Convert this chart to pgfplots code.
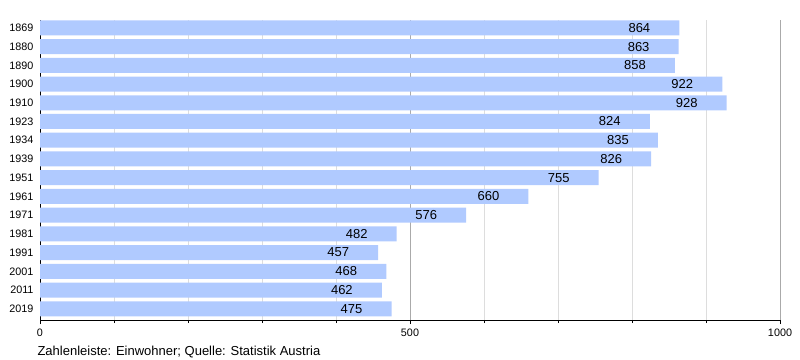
\documentclass[border=0pt]{standalone}
\usepackage{fontspec}
\setmainfont{Liberation Sans}
\usepackage{pgfplots}
\pgfplotsset{compat=1.18}
\definecolor{barblue}{RGB}{176,202,255}
\definecolor{minorg}{RGB}{221,221,221}
\definecolor{majorg}{RGB}{170,170,170}
\begin{document}
\begin{tikzpicture}
\useasboundingbox (-40bp,-40bp) rectangle (760bp,320bp);
\begin{axis}[
  at={(0,0)}, anchor=south west,
  scale only axis, width=740bp, height=300bp,
  xmin=0, xmax=1000,
  ymin=-0.42, ymax=15.6,
  y dir=reverse,
  axis x line*=bottom, axis y line*=left,
  axis line style={black, line width=0.8bp},
  xtick={0,500,1000},
  minor xtick={100,200,300,400,600,700,800,900},
  xtick pos=bottom, tick align=outside,
  major tick length=4bp, minor tick length=3bp,
  tick style={black, line width=0.6bp},
  xmajorgrids, xminorgrids,
  major grid style={majorg, line width=0.8bp},
  minor grid style={minorg, line width=0.8bp},
  ytick={0,...,15},
  yticklabels={1869,1880,1890,1900,1910,1923,1934,1939,1951,1961,1971,1981,1991,2001,2011,2019},
  y tick label style={font=\fontsize{10.8bp}{12bp}\selectfont, xshift=1bp},
  x tick label style={font=\fontsize{10.8bp}{12bp}\selectfont, yshift=-1bp},
  ytick style={draw=none},
  /pgf/number format/assume math mode=true,
  /pgf/number format/1000 sep={},
  xbar, bar width=15bp,
  nodes near coords,
  every node near coord/.append style={anchor=center, xshift=-40bp, font=\fontsize{13bp}{15bp}\selectfont, black},
]
\addplot[fill=barblue, draw=none] coordinates {
(864,0) (863,1) (858,2) (922,3) (928,4) (824,5) (835,6) (826,7)
(755,8) (660,9) (576,10) (482,11) (457,12) (468,13) (462,14) (475,15)};
\end{axis}
\node[anchor=west, font=\fontsize{13bp}{15bp}\selectfont] at (-6bp,-32bp) {Zahlenleiste: Einwohner; Quelle: Statistik Austria};
\end{tikzpicture}
\end{document}
